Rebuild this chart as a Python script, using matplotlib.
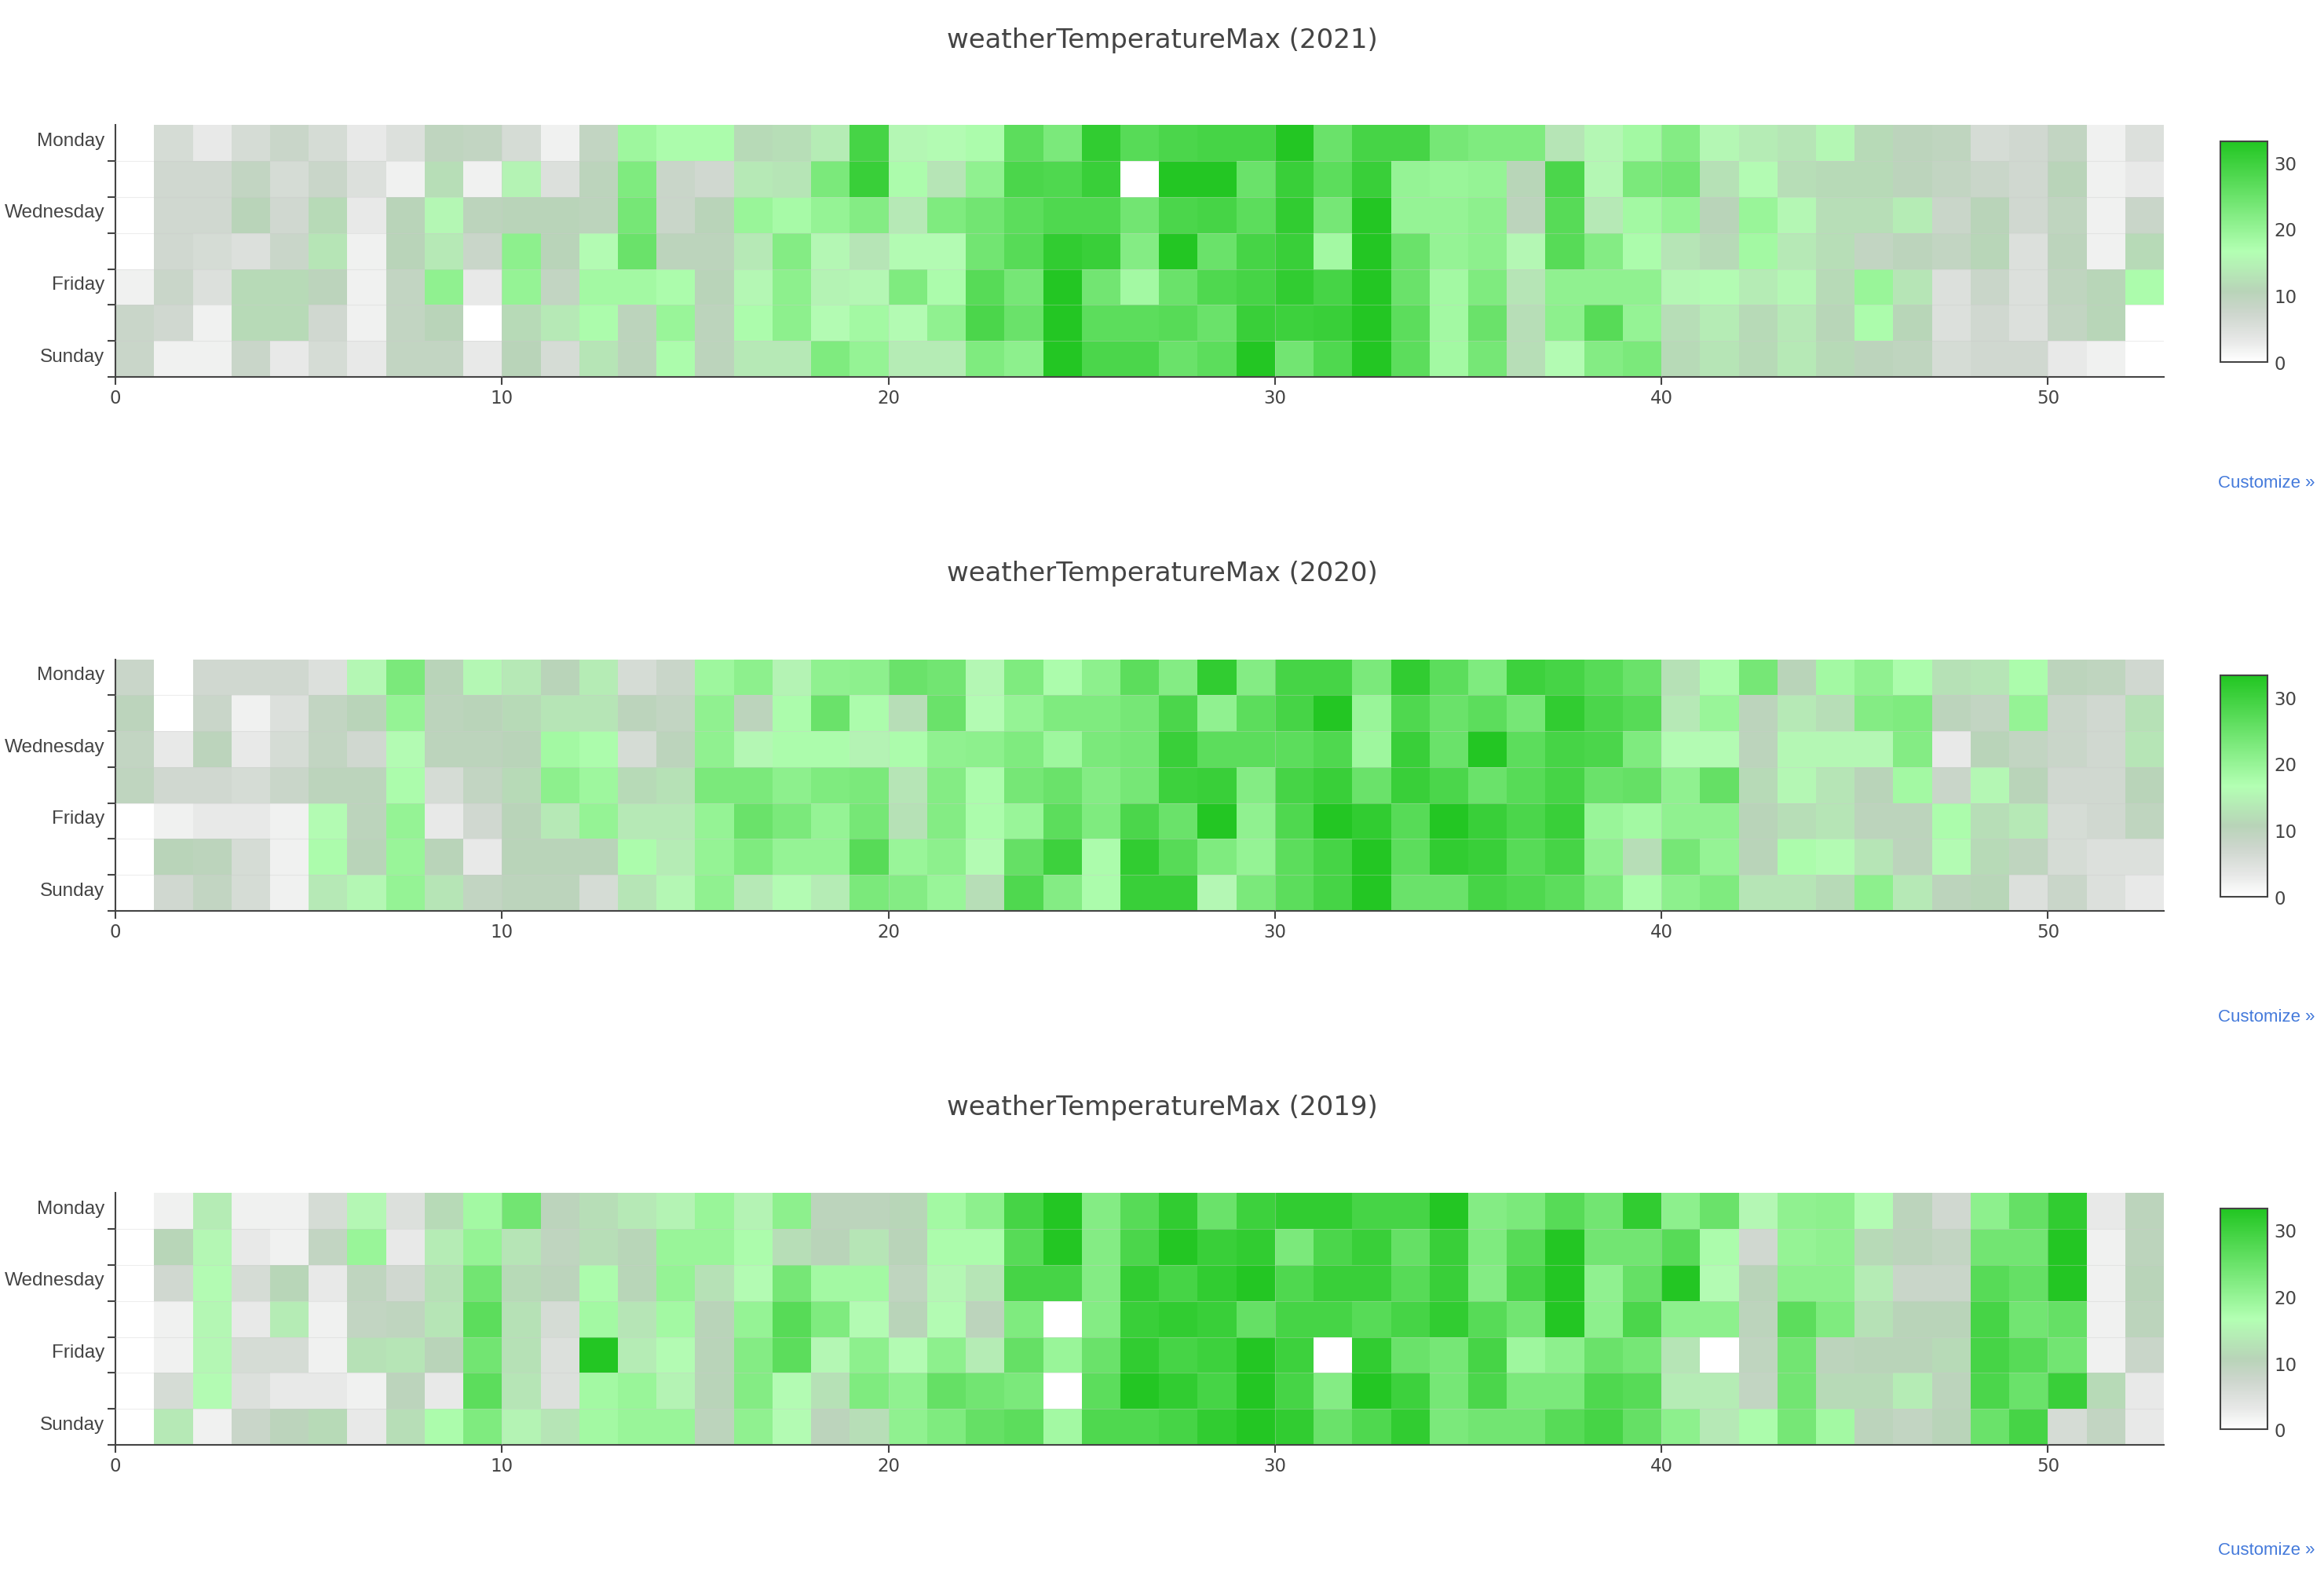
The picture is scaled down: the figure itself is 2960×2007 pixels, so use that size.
import numpy as np
import matplotlib.pyplot as plt
from matplotlib.colors import LinearSegmentedColormap

days = ["Monday", "Tuesday", "Wednesday", "Thursday", "Friday", "Saturday", "Sunday"]
weeks = list(range(53))
week_ticks = [0, 10, 20, 30, 40, 50]
cbar_ticks = [0, 10, 20, 30]
years = [2021, 2020, 2019]
N = None

temp_2021 = [
    [N, 6, 3, 6, 8, 6, 3, 5, 9.5, 9, 6, 2, 9, 19, 17.5, 17.5, 11.5, 12, 14, 29, 15.5, 16, 17.5, 26.5, 23, 31.5, 27, 28.5, 29, 29, 33, 25, 29, 29, 23.5, 22.5, 22.5, 13, 15.5, 18.5, 22, 15.5, 14, 13, 15.5, 11.5, 10, 9.5, 6, 7, 9, 2, 5],
    [N, 7, 7, 9, 6, 8, 5, 2, 12, 2, 15, 5, 10, 22.5, 8, 7, 13.5, 13, 23, 30.5, 17.5, 13, 20.5, 28.5, 28, 30.5, N, 33, 33, 25, 30.5, 26.5, 30.5, 20, 19.5, 20, 11, 28.5, 15.5, 23, 24, 12.5, 16, 12, 11.5, 11.5, 10, 9, 8, 7, 10.5, 2, 3],
    [N, 7, 7, 10.5, 7, 11.5, 3, 10.5, 15.5, 10, 10.5, 10.5, 10, 23.5, 8, 10.5, 19.5, 18, 20, 22, 13.5, 22.5, 24, 26.5, 28, 28, 24, 28.5, 29, 26.5, 31.5, 23.5, 33, 20, 20, 21, 10, 27, 13.5, 18.5, 20, 10.5, 19.5, 15.5, 12, 12, 14, 8, 10.5, 7, 9.5, 2, 8],
    [N, 7, 6, 5, 8, 13, 2, 10.5, 13.5, 8, 21, 10.5, 16, 25, 10, 10, 13.5, 22, 15.5, 13, 16, 16, 24, 27, 31.5, 30.5, 22, 33, 25, 29, 30.5, 18.5, 33, 25, 20, 21, 15.5, 27, 22, 17.5, 13, 11.5, 18.5, 13.5, 12, 9, 10, 9, 11, 5, 10, 2, 11.5],
    [2, 8, 5, 11.5, 11.5, 10, 2, 9, 20.5, 3, 20, 9, 18.5, 18.5, 17.5, 10.5, 15.5, 21, 15, 15.5, 22.5, 17.5, 27, 23.5, 33, 24, 18.5, 25, 28, 29, 31.5, 29, 33, 25, 18.5, 22.5, 13, 20.5, 20.5, 20.5, 15.5, 16, 14, 15.5, 11.5, 19.5, 13, 5, 8, 5, 9.5, 11, 17.5],
    [8, 7, 2, 11.5, 11.5, 7, 2, 9, 10.5, N, 11.5, 13.5, 17.5, 10, 19.5, 10, 17.5, 21, 16, 18.5, 16, 20.5, 28.5, 25, 33, 26.5, 26.5, 27, 25, 30.5, 30, 30.5, 33, 26.5, 18.5, 25, 12, 21, 27, 20, 12, 14, 11.5, 13.5, 11, 17.5, 11, 5, 7, 5, 9, 11, N],
    [8, 2, 2, 8, 3, 6, 3, 9, 9, 3, 10.5, 6, 13, 10, 17.5, 10, 13.5, 13.5, 22.5, 20, 14, 14, 22.5, 21, 33, 28.5, 28.5, 25, 26.5, 33, 24, 28, 33, 26.5, 18.5, 23.5, 12, 16, 22, 23, 11.5, 13, 11.5, 13.5, 11.5, 10, 9.5, 6, 7, 7, 3, 2, N],
]

temp_2020 = [
    [8, N, 7, 7, 7, 5, 15.5, 23, 10.5, 15.5, 13.5, 10.5, 14, 6, 8, 19, 21, 15, 20.5, 21, 25, 24, 15.5, 22.5, 17.5, 21, 26.5, 22, 31.5, 22, 29, 29, 23, 31.5, 26.5, 22.5, 30, 29, 27, 25, 12.5, 17.5, 23.5, 10.5, 18.5, 20.5, 17.5, 12.5, 13, 17.5, 10, 9.5, 7],
    [10, N, 8, 2, 5, 9, 10.5, 20, 10, 10.5, 11.5, 13, 13, 10, 9, 20.5, 10, 17.5, 25, 17.5, 12, 25, 16, 20, 22.5, 22.5, 23.5, 28.5, 20.5, 26.5, 29, 33, 19.5, 28, 25, 26.5, 23.5, 31.5, 28.5, 27, 13.5, 19.5, 10, 13.5, 12, 22, 22.5, 10, 9, 20, 8, 7, 12.5],
    [9, 3, 10, 3, 6, 9, 7, 16, 10, 10, 10.5, 18.5, 17.5, 6, 10, 20.5, 15.5, 17.5, 17.5, 15, 17.5, 20.5, 21, 22.5, 19, 23, 23.5, 30.5, 26.5, 26.5, 26.5, 28, 19, 30.5, 25, 33, 26.5, 29, 28.5, 22.5, 16, 16, 10, 15.5, 15.5, 15.5, 22, 3, 10.5, 9, 8, 7, 13],
    [9.5, 7, 7, 6, 8, 10, 10, 17.5, 6, 9, 11.5, 21, 19, 11.5, 12.5, 23, 23, 21, 22.5, 23, 13, 22, 17.5, 23.5, 25, 22, 23.5, 30, 30.5, 22, 29, 30.5, 25, 30.5, 28.5, 25, 27, 29, 25, 25.5, 20.5, 25.5, 11.5, 15.5, 13, 10.5, 18.5, 8, 15.5, 10.5, 7, 7, 10.5],
    [N, 2, 3, 3, 2, 16, 10, 20, 3, 7, 10.5, 13.5, 20, 13.5, 13.5, 20, 25, 23, 20, 23.5, 12.5, 22, 17.5, 19.5, 26.5, 22.5, 28.5, 25, 33, 20.5, 28, 33, 31.5, 27, 33, 30.5, 28.5, 30.5, 19.5, 18.5, 20.5, 20.5, 10.5, 12, 13, 10, 10, 17.5, 12, 13.5, 6, 7, 9.5],
    [N, 10.5, 10, 6, 2, 17.5, 10.5, 19.5, 10.5, 3, 10.5, 10.5, 10.5, 17.5, 14, 20, 22.5, 20, 20, 27, 19.5, 21, 16, 25.5, 30, 17.5, 31.5, 27, 22.5, 20, 26.5, 29, 33, 26.5, 31.5, 30.5, 27, 29, 20.5, 12, 23.5, 20, 10.5, 17.5, 16, 13, 10, 16, 11.5, 9.5, 6, 5, 5],
    [N, 7, 9, 6, 2, 13.5, 15.5, 20, 13, 9, 10, 10, 6, 13, 15.5, 20.5, 13.5, 16, 14, 23, 22, 19.5, 12, 28, 22, 17.5, 30.5, 30.5, 15.5, 23, 26.5, 29, 33, 25, 25, 29, 28, 26.5, 22.5, 17.5, 21, 22.5, 13, 13, 11.5, 21, 13.5, 10, 11, 5, 8, 5, 3],
]

temp_2019 = [
    [N, 2, 14, 2, 2, 6, 15.5, 5, 11.5, 18.5, 24, 10, 12, 13.5, 15, 19.5, 15, 21, 10, 10, 11, 18.5, 21, 29, 33, 22, 27, 31.5, 25, 30, 31.5, 31.5, 29, 29, 33, 22, 23, 27, 24, 31.5, 21, 25, 15.5, 20.5, 21, 16, 10, 7, 21, 25.5, 31.5, 3, 10],
    [N, 11, 15.5, 3, 2, 9, 19.5, 3, 14, 20, 13, 9.5, 12, 11, 19.5, 19.5, 17.5, 12, 10.5, 13, 10.5, 17.5, 17.5, 27, 33, 22, 28.5, 33, 30.5, 31.5, 23, 28.5, 30.5, 25.5, 30.5, 22.5, 27, 33, 24, 24, 27, 17.5, 7, 20, 20.5, 11.5, 10, 9, 24, 24, 33, 2, 10],
    [N, 7, 16, 6, 11, 3, 9.5, 7, 12.5, 24, 11.5, 10, 17.5, 11, 20, 12.5, 16, 23.5, 18.5, 18.5, 9.5, 15.5, 13, 29, 29, 22, 31.5, 29, 31.5, 33, 28, 30.5, 30.5, 27, 30.5, 22, 29, 33, 20.5, 25.5, 33, 16, 10.5, 21, 21, 14, 8, 8, 27, 25.5, 33, 2, 10.5],
    [N, 2, 15.5, 3, 14, 2, 9, 9.5, 13, 26.5, 12.5, 6, 18.5, 13, 18.5, 10.5, 20, 27, 22.5, 16, 10.5, 16, 10, 22.5, N, 22, 30.5, 31.5, 30.5, 25.5, 29, 29, 27, 29, 31.5, 27, 24, 33, 21, 28.5, 21, 21, 10, 26.5, 22.5, 12.5, 10.5, 10.5, 29, 24, 25.5, 2, 10],
    [N, 2, 15.5, 6, 6, 2, 12.5, 13, 10.5, 24, 12.5, 5, 33, 14, 16, 10.5, 22, 26.5, 15.5, 21, 16, 21, 14, 25.5, 19.5, 25, 31.5, 29, 30, 33, 30, N, 31.5, 25, 23.5, 29, 19, 21, 25, 23.5, 13, N, 9.5, 24, 10, 10.5, 10.5, 11.5, 29, 27, 24, 2, 8],
    [N, 6, 16, 5, 3, 3, 2, 10, 3, 26.5, 13, 5, 18.5, 19.5, 15, 10.5, 22, 16, 12.5, 22.5, 20.5, 25.5, 24, 23, N, 26.5, 33, 31.5, 29, 33, 29, 22, 33, 30, 23.5, 28.5, 23, 23, 28, 27, 14, 14, 9, 24, 11.5, 11.5, 14, 10, 28.5, 25, 30.5, 11.5, 3],
    [N, 13.5, 2, 8, 10, 11.5, 3, 12, 17.5, 22.5, 15, 13, 18.5, 19.5, 19.5, 10, 20.5, 16, 10, 12, 20.5, 22.5, 25.5, 26.5, 18.5, 28, 28, 29, 31.5, 33, 31.5, 25, 28, 31.5, 23, 24, 24, 27, 29, 25.5, 21, 13.5, 17.5, 23.5, 18.5, 10, 9, 10.5, 25, 29, 6, 9, 3],
]

all_temps = [temp_2021, temp_2020, temp_2019]

zmin, zmax = 0, 33.2
cmap = LinearSegmentedColormap.from_list("wtm", [
    (0.0, "#ffffff"),
    (0.1, "#e6e7e6"),
    (0.22, "#cdd6cd"),
    (0.32, "#b8d4b8"),
    (0.5, "#b3ffb3"),
    (1.0, "#22c622"),
])

txt = "#444444"

fig = plt.figure(figsize=(29.6, 20.08), dpi=100)

ax_bottoms = [0.7605, 0.4218, 0.0832]
cb_bottoms = [0.770, 0.431, 0.093]
title_y = [0.9746, 0.6364, 0.2978]
link_y = [0.6937, 0.355, 0.0168]

for i in range(3):
    z = np.ma.masked_invalid(np.array(all_temps[i], dtype=float))
    ax = fig.add_axes([0.0497, ax_bottoms[i], 0.8814, 0.1596])
    mesh = ax.pcolormesh(np.arange(len(weeks) + 1), np.arange(len(days) + 1), z,
                         cmap=cmap, vmin=zmin, vmax=zmax, shading="flat")
    ax.set_xlim(0, 53)
    ax.set_ylim(7, 0)

    # faint grid seams
    for yb in range(1, 7):
        ax.axhline(yb, color="#cccccc", lw=0.8, alpha=0.35, zorder=3)
    for xb in week_ticks[1:]:
        ax.axvline(xb, color="#cccccc", lw=0.8, alpha=0.35, zorder=3)

    for s in ["top", "right"]:
        ax.spines[s].set_visible(False)
    for s in ["left", "bottom"]:
        ax.spines[s].set_color(txt)
        ax.spines[s].set_linewidth(1.5)

    ax.set_xticks(week_ticks)
    ax.set_xticklabels([str(w) for w in week_ticks], fontsize=16.5, color=txt,
                       family="DejaVu Sans")
    ax.tick_params(axis="x", direction="out", length=7, width=1.5, color=txt, pad=4)

    # labels sit a little above the row centres, as in the original
    ax.set_yticks([0.37, 2.37, 4.37, 6.37])
    ax.set_yticklabels(days[::2], fontsize=17.5, color=txt, family="Liberation Sans")
    ax.set_yticks(np.arange(1, 8), minor=True)
    ax.tick_params(axis="y", which="major", length=0, pad=10)
    ax.tick_params(axis="y", which="minor", direction="out", length=7, width=1.5, color=txt)

    cax = fig.add_axes([0.9554, cb_bottoms[i], 0.0203, 0.140])
    cb = fig.colorbar(mesh, cax=cax, ticks=cbar_ticks)
    cb.outline.set_edgecolor(txt)
    cb.outline.set_linewidth(1.5)
    cb.ax.tick_params(length=0, pad=6, labelsize=16.5, labelcolor=txt)
    for lab in cb.ax.get_yticklabels():
        lab.set_family("DejaVu Sans")

    fig.text(0.5, title_y[i], "weatherTemperatureMax (%d)" % years[i],
             ha="center", va="center", fontsize=24.5, color=txt, family="DejaVu Sans")
    fig.text(0.996, link_y[i], "Customize \u00bb", ha="right", va="center",
             fontsize=16, color="#447adb", family="Liberation Sans")

fig.savefig("out.png", dpi=100, facecolor="white")
